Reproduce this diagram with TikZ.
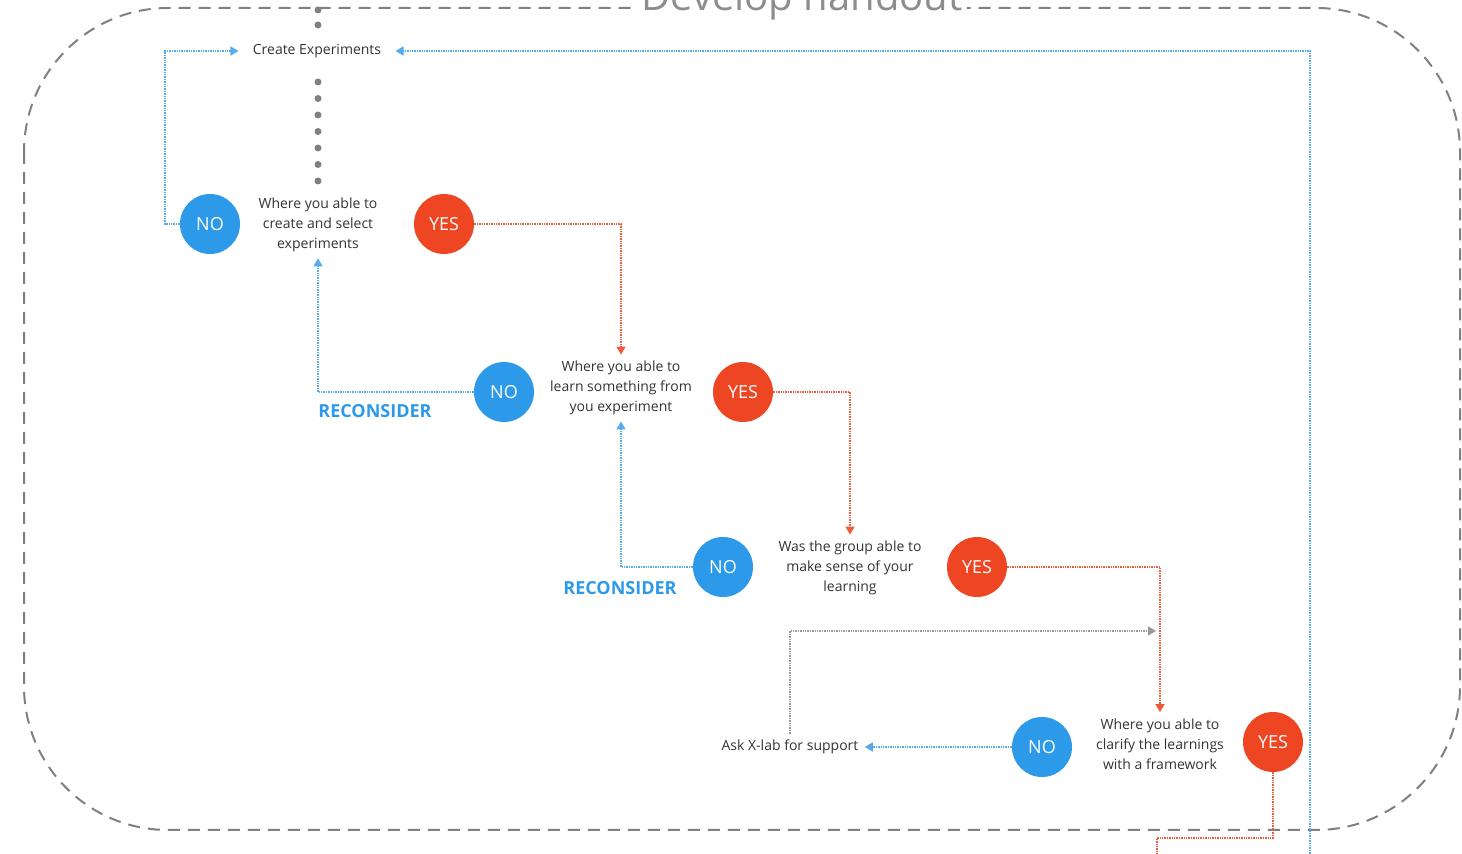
\documentclass[tikz,border=0pt]{standalone}
\usepackage{fontspec}
\setmainfont{Open Sans}
\usetikzlibrary{arrows.meta,calc,positioning}
\definecolor{noblue}{HTML}{2D9AE9}
\definecolor{yesred}{HTML}{EE4523}
\definecolor{backblue}{HTML}{55ABEE}
\definecolor{fwdred}{HTML}{EF5A3C}
\definecolor{frameg}{HTML}{808080}
\definecolor{txt}{HTML}{333333}
\tikzset{nocirc/.style={circle,fill=noblue,text=white,minimum size=30pt,inner sep=0pt,font=\fontsize{9}{10}\selectfont}, yescirc/.style={nocirc,fill=yesred},question/.style={align=center,text=txt,inner sep=3pt,font=\fontsize{7}{10}\selectfont},backline/.style={draw=backblue,line width=.8pt,dash pattern=on .7pt off .5pt,-{Triangle[length=4pt,width=4.5pt]}},fwdline/.style={backline,draw=fwdred},helpline/.style={backline,draw=frameg!80},framebox/.style={draw=frameg,line width=1pt,dash pattern=on 6pt off 4pt,rounded corners=72pt}, reconsider/.style={text=noblue,font=\fontsize{9}{10}\selectfont\bfseries},graydot/.style={fill=frameg,draw=none}}

\begin{document}
\begin{tikzpicture}[x=.5pt,y=-.5pt]
\useasboundingbox (0,0) rectangle (1462,854);
\draw[framebox] (24,8) rectangle (1460,830);
\node[anchor=base,fill=white,text=frameg!90,inner sep=2pt,font=\fontsize{20}{22}\selectfont] (title) at (802,11) {Develop handout};
% column of dots down to the first question
\foreach \y in {10,25,82,98.5,115,131.5,148,164.5,181} \fill[graydot] (318,\y) circle (3.5);
\node[question,inner xsep=7pt] (create) at (317,51) {Create Experiments};
% questions with their answers
\node[question] (q1) at (318,225) {Where you able to\\create and select\\experiments};
\node[nocirc] (no1) at (210,224) {NO};\node[yescirc] (yes1) at (444,224) {YES};
\node[question] (q2) at (621,388) {Where you able to\\learn something from\\you experiment};
\node[nocirc] (no2) at (504,392) {NO};\node[yescirc] (yes2) at (743,392) {YES};
\node[question] (q3) at (850,568) {Was the group able to\\make sense of your\\learning};
\node[nocirc] (no3) at (723,567) {NO};\node[yescirc] (yes3) at (977,567) {YES};
\node[question] (q4) at (1160,744) {Where you able to\\clarify the learnings\\with a framework};
\node[nocirc] (no4) at (1042,747) {NO};\node[yescirc] (yes4) at (1273,742) {YES};
\node[question] (ask) at (790,747) {Ask X-lab for support};
\node[reconsider] (rec1) at (375,411) {RECONSIDER};
\node[reconsider] (rec2) at (620,588) {RECONSIDER};
\coordinate (lcorner) at (165,51);\coordinate (feedin) at (1310,880);
\coordinate (merge) at (1156,631);\coordinate (drop) at (1273,838);\coordinate (exit) at (1157,880);
% back loops
\draw[backline] (no1.west) -| (lcorner) -- (create.west);
\draw[backline] (feedin) |- (create.east);
\draw[backline] (no2.west) -| (q1.south);
\draw[backline] (no3.west) -| (q2.south);
\draw[backline] (no4.west) -- (ask.east);
\draw[helpline] (ask.north) |- (merge);
% yes path
\draw[fwdline] (yes1.east) -| (q2.north);
\draw[fwdline] (yes2.east) -| (q3.north);
\draw[fwdline] (yes3.east) -| (q4.north);
\draw[fwdline,-] (yes4.south) -- (drop) -| (exit);
\end{tikzpicture}
\end{document}
